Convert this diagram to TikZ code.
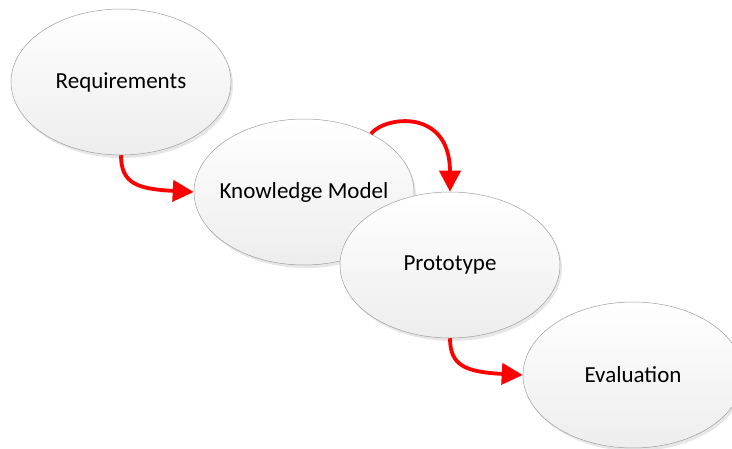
\documentclass[tikz,border=0pt]{standalone}
\usepackage{fontspec}
\setmainfont{Carlito}
\usetikzlibrary{
  shapes.geometric,
  shadows,
  arrows.meta
}

\begin{document}
\begin{tikzpicture}[x = 1pt, y = -1pt,
    phase/.style = {ellipse, draw = gray!75, line width = 0.5pt,
      top color = white, bottom color = gray!14,
      minimum width = 220pt, minimum height = 146pt,
      inner xsep = -30pt, inner ysep = 0pt,
      drop shadow = {shadow xshift = 2pt, shadow yshift = -3pt, opacity = 0.2, fill = gray},
      font = \fontsize{23}{27}\selectfont},
    flow/.style = {red, line width = 3.8pt, -{Triangle[length = 21pt, width = 21pt]}}]
    \useasboundingbox (0,0) rectangle (732,449);

    \node[phase] (1) at (121,82) {Requirements};
    \node[phase] (2) at (304,192) {Knowledge Model};
    \node[phase] (3) at (450,265) {Prototype};
    \node[phase] (4) at (633,375) {Evaluation};

    \draw[flow] (1.south) .. controls (121,184) and (138,189) .. (2.west);
    \draw[flow] (2.41) .. controls (385,116) and (450,108) .. (3.north);
    \draw[flow] (3.south) .. controls (450,366) and (466,372) .. (4.west);
  \end{tikzpicture}
\end{document}
